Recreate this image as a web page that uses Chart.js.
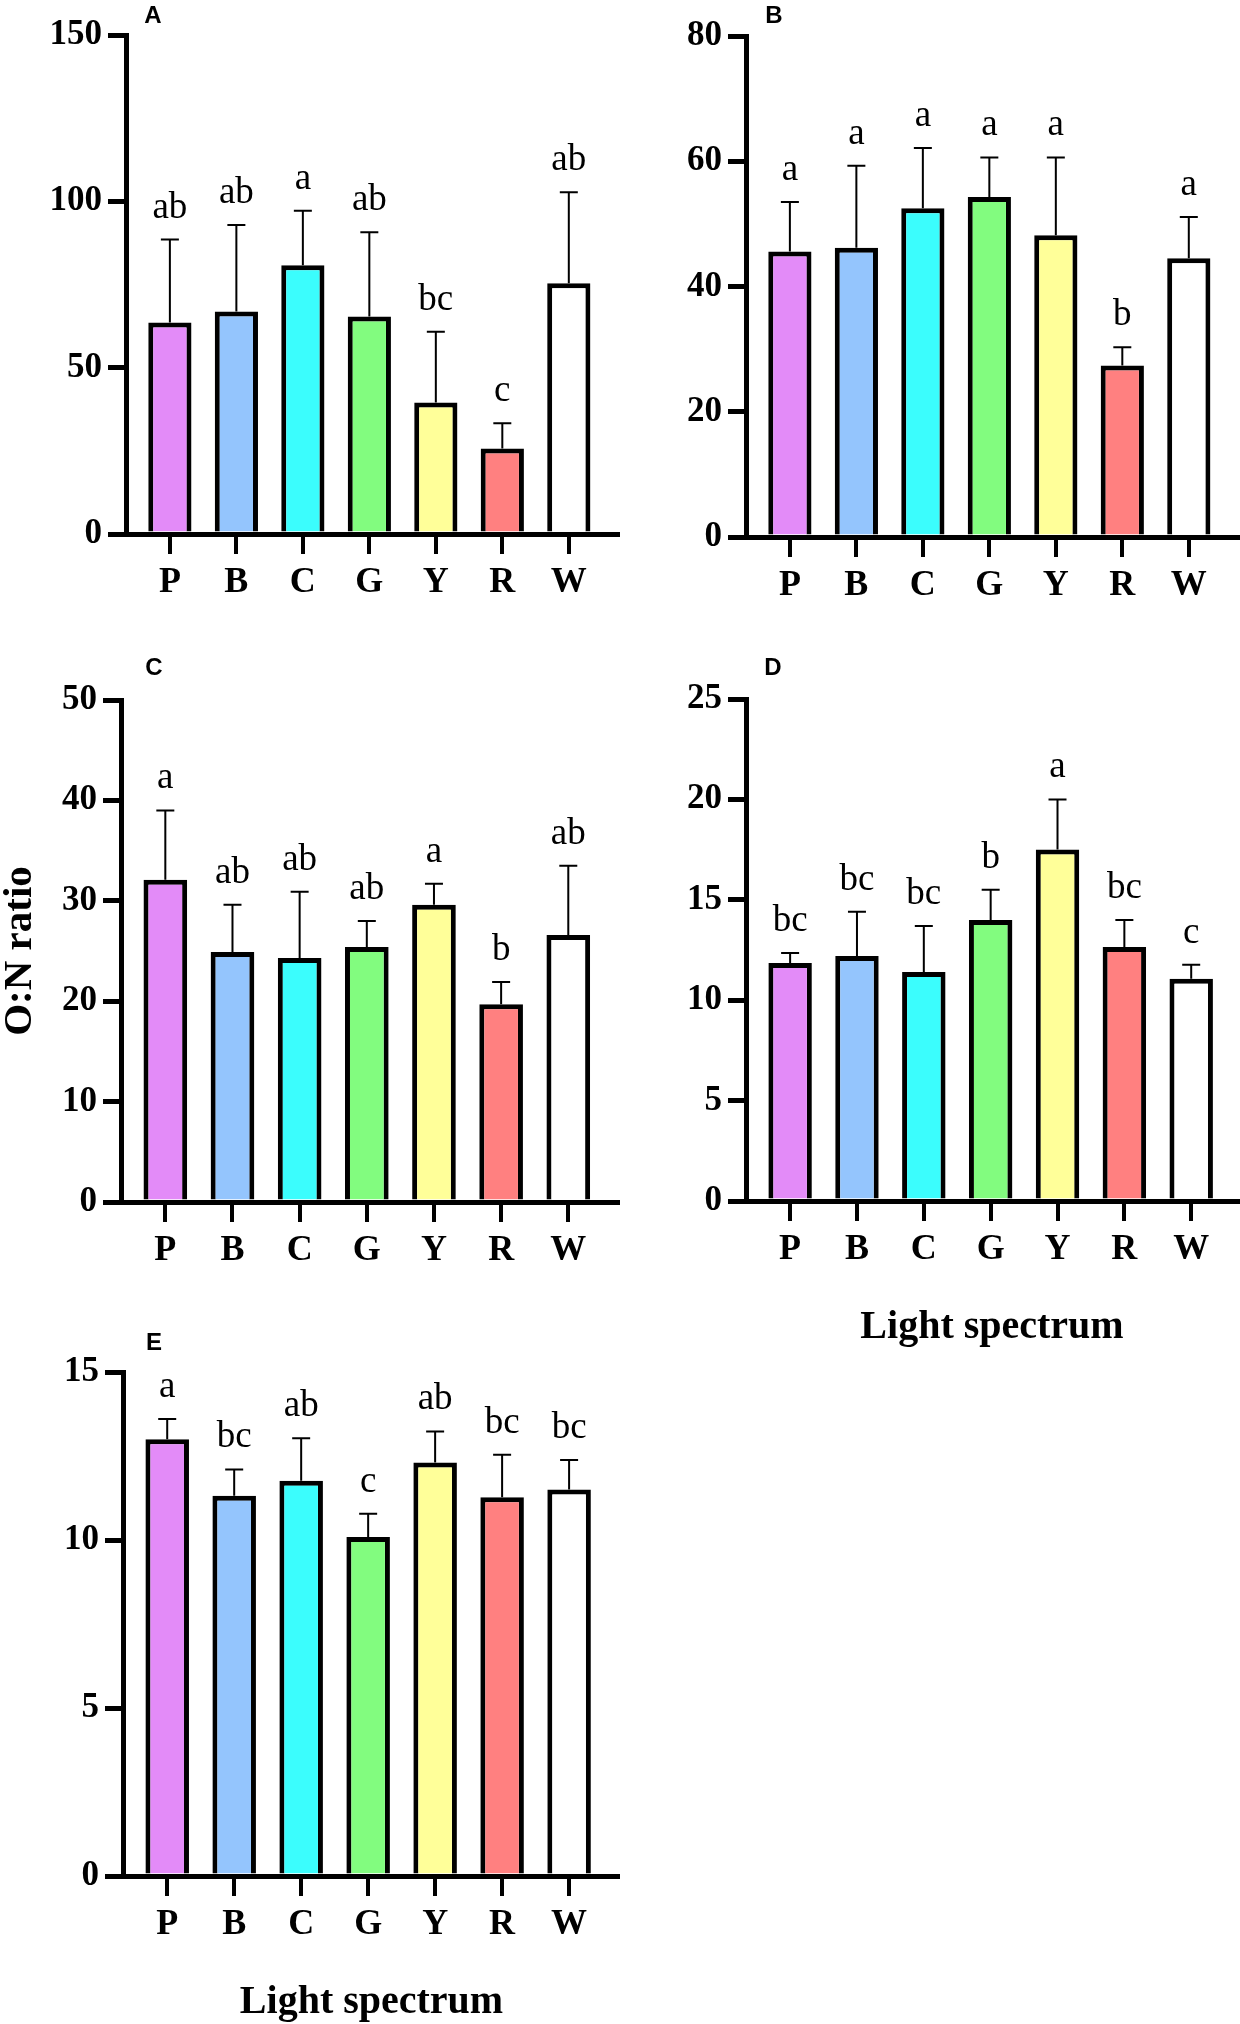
<!DOCTYPE html>
<html>
<head>
<meta charset="utf-8">
<script src="https://cdn.jsdelivr.net/npm/chart.js@4.4.1/dist/chart.umd.min.js"></script>
<style>
  body { margin: 0; background: #fff; }
  #wrap { position: relative; width: 1240px; height: 2024px; background: #fff; }
  canvas { position: absolute; }
</style>
</head>
<body>
<div id="wrap">
  <canvas id="cA" width="620" height="620" style="left:0px;top:0px"></canvas>
  <canvas id="cB" width="620" height="620" style="left:620px;top:0px"></canvas>
  <canvas id="cC" width="620" height="640" style="left:0px;top:640px"></canvas>
  <canvas id="cD" width="620" height="708" style="left:620px;top:640px"></canvas>
  <canvas id="cE" width="620" height="713" style="left:0px;top:1310px"></canvas>
</div>
<script>
// light treatments and their bar colours
const lights = ['P', 'B', 'C', 'G', 'Y', 'R', 'W'];
const barColors = ['#E38BF8', '#94C5FD', '#3BFDFD', '#82FC7F', '#FFFF99', '#FF8080', '#FFFFFF'];

// panel A
const meanA = [63.6, 66.9, 80.8, 65.4, 39.5, 25.7, 75.4];
const sdA   = [24.9, 26.0, 16.4, 25.3, 21.3, 7.6, 27.3];
const sigA  = ['ab', 'ab', 'a', 'ab', 'bc', 'c', 'ab'];
const ticksA = [0, 50, 100, 150];

// panel B
const meanB = [45.6, 46.2, 52.5, 54.3, 48.2, 27.4, 44.5];
const sdB   = [7.9, 13.1, 9.6, 6.3, 12.4, 2.9, 6.6];
const sigB  = ['a', 'a', 'a', 'a', 'a', 'b', 'a'];
const ticksB = [0, 20, 40, 60, 80];

// panel C
const meanC = [32.1, 24.9, 24.3, 25.4, 29.6, 19.7, 26.6];
const sdC   = [6.9, 4.7, 6.6, 2.6, 2.1, 2.2, 6.9];
const sigC  = ['a', 'ab', 'ab', 'ab', 'a', 'b', 'ab'];
const ticksC = [0, 10, 20, 30, 40, 50];

// panel D
const meanD = [11.85, 12.2, 11.4, 14.0, 17.5, 12.65, 11.07];
const sdD   = [0.5, 2.2, 2.3, 1.5, 2.5, 1.35, 0.69];
const sigD  = ['bc', 'bc', 'bc', 'b', 'a', 'bc', 'c'];
const ticksD = [0, 5, 10, 15, 20, 25];

// panel E
const meanE = [13.0, 11.32, 11.76, 10.09, 12.31, 11.27, 11.5];
const sdE   = [0.6, 0.78, 1.27, 0.69, 0.92, 1.27, 0.88];
const sigE  = ['a', 'bc', 'ab', 'c', 'ab', 'bc', 'bc'];
const ticksE = [0, 5, 10, 15];

const serif = '"Liberation Serif", "Times New Roman", serif';

// error bars, significance letters and the panel letter
function sigPlugin(sd, sig, letter, lx, ly) {
  return {
    id: 'sig',
    afterDatasetsDraw(chart) {
      const { ctx, scales: { x, y } } = chart;
      const data = chart.data.datasets[0].data;
      ctx.save();
      ctx.strokeStyle = '#000';
      ctx.fillStyle = '#000';
      ctx.lineWidth = 2;
      ctx.font = '37px ' + serif;
      ctx.textAlign = 'center';
      ctx.textBaseline = 'alphabetic';
      data.forEach((d, i) => {
        const px = x.getPixelForValue(d.x);
        const y0 = y.getPixelForValue(d.y);
        const y1 = y.getPixelForValue(d.y + sd[i]);
        ctx.beginPath();
        ctx.moveTo(px, y0);
        ctx.lineTo(px, y1);
        ctx.moveTo(px - 9, y1);
        ctx.lineTo(px + 9, y1);
        ctx.stroke();
        ctx.fillText(sig[i], px, y1 - 22);
      });
      ctx.font = 'bold 24px "Liberation Sans", Arial, sans-serif';
      ctx.textBaseline = 'middle';
      ctx.fillText(letter, lx, ly);
      ctx.restore();
    }
  };
}

function makeChart(id, p) {
  const yScale = {
    min: 0,
    max: p.ticks[p.ticks.length - 1],
    afterBuildTicks: s => { s.ticks = p.ticks.map(v => ({ value: v })); },
    afterFit: s => { s.width = p.yW; },
    border: { display: true, color: '#000', width: 5 },
    grid: { drawOnChartArea: false, drawTicks: true, tickLength: 18, color: '#000', lineWidth: 5 },
    ticks: { color: '#000', padding: 6, font: { family: serif, size: 35, weight: 'bold' } },
    title: { display: !!p.yTitle, text: p.yTitle || '', color: '#000', padding: 0,
             font: { family: serif, size: 41, weight: 'bold', lineHeight: 1 } }
  };
  const xScale = {
    type: 'linear',
    min: -0.66,
    max: p.xMax,
    offset: false,
    afterBuildTicks: s => { s.ticks = lights.map((_, i) => ({ value: i })); },
    afterFit: s => { s.height = p.xH; },
    border: { display: true, color: '#000', width: 5 },
    grid: { offset: false, drawOnChartArea: false, drawTicks: true, tickLength: 20, color: '#000', lineWidth: 4 },
    ticks: { color: '#000', padding: 7, autoSkip: false, maxRotation: 0,
             callback: v => lights[v] ?? '',
             font: { family: serif, size: 36, weight: 'bold' } },
    title: { display: !!p.xTitle, text: p.xTitle || '', color: '#000', padding: 0,
             font: { family: serif, size: 40, weight: 'bold', lineHeight: 1 } }
  };
  return new Chart(document.getElementById(id), {
    type: 'bar',
    data: {
      datasets: [{
        data: p.mean.map((v, i) => ({ x: i, y: v })),
        backgroundColor: barColors,
        borderColor: '#000',
        borderWidth: 5,
        borderSkipped: 'start',
        barPercentage: 0.65,
        categoryPercentage: 1
      }]
    },
    options: {
      responsive: false,
      animation: false,
      devicePixelRatio: 1,
      layout: { padding: { top: p.padTop, right: p.padRight, left: 0, bottom: 0 } },
      plugins: { legend: { display: false }, tooltip: { enabled: false } },
      scales: { x: xScale, y: yScale }
    },
    plugins: [sigPlugin(p.sd, p.sig, p.letter, p.lx, p.ly)]
  });
}

makeChart('cA', { mean: meanA, sd: sdA, sig: sigA, ticks: ticksA, letter: 'A', lx: 153, ly: 16,
                  yW: 126, padTop: 35, padRight: 0, xH: 86, xMax: 6.77 });
makeChart('cB', { mean: meanB, sd: sdB, sig: sigB, ticks: ticksB, letter: 'B', lx: 154, ly: 16,
                  yW: 126, padTop: 36, padRight: 2, xH: 83, xMax: 6.74 });
makeChart('cC', { mean: meanC, sd: sdC, sig: sigC, ticks: ticksC, letter: 'C', lx: 154, ly: 28,
                  yW: 121, padTop: 60, padRight: 0, xH: 78, xMax: 6.77, yTitle: 'O:N ratio' });
makeChart('cD', { mean: meanD, sd: sdD, sig: sigD, ticks: ticksD, letter: 'D', lx: 153, ly: 28,
                  yW: 126, padTop: 59, padRight: 2, xH: 147, xMax: 6.70, xTitle: 'Light spectrum' });
makeChart('cE', { mean: meanE, sd: sdE, sig: sigE, ticks: ticksE, letter: 'E', lx: 154, ly: 33,
                  yW: 123, padTop: 62, padRight: 0, xH: 147, xMax: 6.76, xTitle: 'Light spectrum' });
</script>
</body>
</html>
